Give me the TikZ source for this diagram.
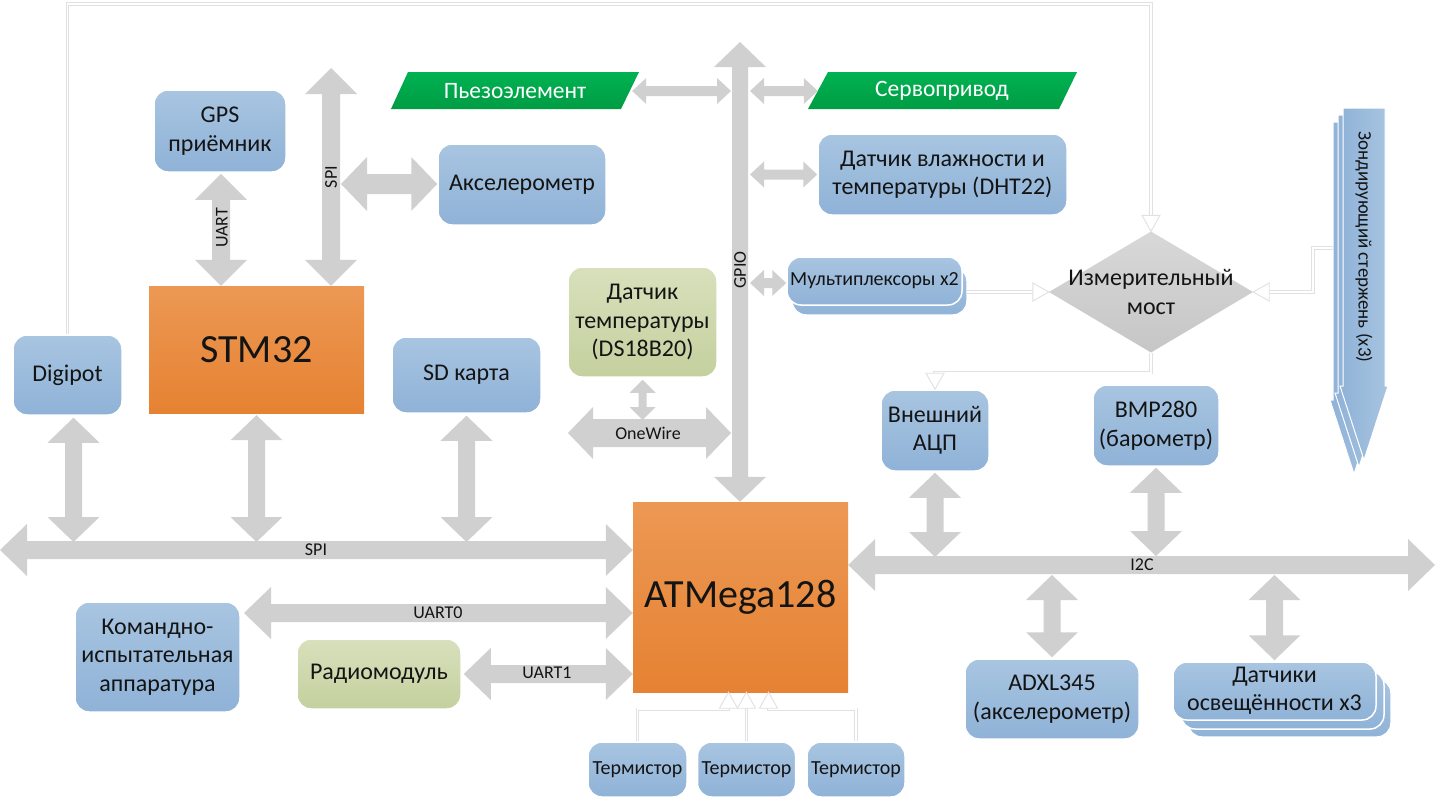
\documentclass[tikz,border=0pt]{standalone}
\usepackage{fontspec}
\setmainfont{Carlito}
\usetikzlibrary{calc}
\definecolor{bluetop}{RGB}{168,197,225}
\definecolor{bluebot}{RGB}{143,178,215}
\definecolor{greentop}{RGB}{216,224,188}
\definecolor{greenbot}{RGB}{196,208,158}
\definecolor{orangetop}{RGB}{236,152,84}
\definecolor{orangebot}{RGB}{230,130,50}
\definecolor{arrowgray}{RGB}{208,208,208}
\definecolor{pgreentop}{RGB}{0,178,82}
\definecolor{pgreenbot}{RGB}{0,156,68}
\definecolor{diatop}{RGB}{216,216,216}
\definecolor{diabot}{RGB}{198,198,198}
\definecolor{wiregray}{RGB}{225,225,225}
\definecolor{txt}{RGB}{20,20,20}

% horizontal block arrow: from (left) to (right), shaft half, head half, head length
\newcommand\harr[5]{\fill[arrowfill] let \p1=#1, \p2=#2 in
 (\x1,\y1) -- (\x1+#5pt,\y1+#4pt) -- (\x1+#5pt,\y1+#3pt) -- (\x2-#5pt,\y1+#3pt) -- (\x2-#5pt,\y1+#4pt) -- (\x2,\y1)
 -- (\x2-#5pt,\y1-#4pt) -- (\x2-#5pt,\y1-#3pt) -- (\x1+#5pt,\y1-#3pt) -- (\x1+#5pt,\y1-#4pt) -- cycle;}
% vertical block arrow: from (top) to (bottom)
\newcommand\varr[5]{\fill[arrowfill] let \p1=#1, \p2=#2 in
 (\x1,\y1) -- (\x1+#4pt,\y1-#5pt) -- (\x1+#3pt,\y1-#5pt) -- (\x1+#3pt,\y2+#5pt) -- (\x1+#4pt,\y2+#5pt) -- (\x1,\y2)
 -- (\x1-#4pt,\y2+#5pt) -- (\x1-#3pt,\y2+#5pt) -- (\x1-#3pt,\y1-#5pt) -- (\x1-#4pt,\y1-#5pt) -- cycle;}
% white wire with open tip
\newcommand\wtip[2]{\filldraw[wtipst, shift={#1}, rotate=#2] (0pt,0pt) -- (-16pt,9pt) -- (-16pt,-9pt) -- cycle;}
\newcommand\wire[3]{\draw[wout] #1; \draw[win] #1; \wtip{#2}{#3}}

\begin{document}
\begin{tikzpicture}[x=1pt,y=-1pt,
  box/.style={rounded corners=14pt, draw=white, line width=1.5pt, top color=bluetop, bottom color=bluebot,
     align=center, inner sep=0pt, text=txt, font=\fontsize{24}{28.5}\selectfont},
  gbox/.style={box, top color=greentop, bottom color=greenbot},
  obox/.style={draw=none, top color=orangetop, bottom color=orangebot, inner sep=0pt, text=txt,
     font=\fontsize{40}{44}\selectfont},
  sbox/.style={box, font=\fontsize{20}{24}\selectfont},
  lbl/.style={font=\fontsize{18}{21}\selectfont, inner sep=0pt, text=txt},
  arrowfill/.style={fill=arrowgray},
  wout/.style={draw=wiregray, line width=3.5pt, shorten >=15pt},
  win/.style={draw=white, line width=1.8pt, shorten >=15pt},
  wtipst/.style={draw=wiregray, fill=white, line width=0.9pt},
  para/.style={top color=pgreentop, bottom color=pgreenbot},
  ptxt/.style={text=white, inner sep=0pt, font=\fontsize{23.5}{27}\selectfont}
]
\useasboundingbox (0,0) rectangle (1436,798);
\fill[white] (0,0) rectangle (1436,798);

% ---------- coordinates ----------
\coordinate (topY) at (0,4);
\coordinate (spiTop) at (331,68);
\coordinate (spiAcc) at (341,184);
\coordinate (spiL) at (0,550);
\coordinate (u0) at (244,613);
\coordinate (gpioTop) at (740,42);
\coordinate (gpioL) at (731,0);
\coordinate (gpioR) at (750,0);
\coordinate (owL) at (568,433);
\coordinate (i2cR) at (1435,565);
\coordinate (muxOut) at (967,292);
\coordinate (probeL) at (1333,248);

% ---------- green parallelograms ----------
\shade[para] (391,109) -- (408,72) -- (639,72) -- (621,109) -- cycle;
\node[ptxt, minimum width=234pt, minimum height=37pt] (piezo) at (515,91) {Пьезоэлемент};
\shade[para] (808,109) -- (828,72) -- (1077,72) -- (1059,109) -- cycle;
\node[ptxt, minimum width=248pt, minimum height=37pt] (servo) at (942,91) {Сервопривод};

% ---------- diamond ----------
\shade[top color=diatop, bottom color=diabot] (1151,231.5) -- (1253,292) -- (1151,352.5) -- (1049,292) -- cycle;
\node[inner sep=0pt, minimum width=204pt, minimum height=121pt, align=center, text=txt,
      font=\fontsize{24}{28.5}\selectfont] (bridge) at (1151,292) {Измерительный\\мост};

% ---------- probe (x3) ----------
\foreach \dx/\dy in {-10/14,-5/7,0/0}{
  \shade[left color=bluebot, right color=bluetop, draw=white, line width=1pt, shift={(\dx,\dy)}]
    (1343,108) -- (1385,108) -- (1385,386) -- (1388,386) -- (1364,460) -- (1340,386) -- (1343,386) -- cycle;
}
\node[rotate=-90, inner sep=0pt, text=txt, font=\fontsize{19}{22}\selectfont] (probe) at (1364,247) {Зондирующий стержень (x3)};

% ---------- boxes ----------
\node[box, minimum width=132pt, minimum height=82pt] (gps) at (220,131) {GPS\\приёмник};
\node[box, minimum width=168pt, minimum height=81pt] (accel) at (522,184.5) {Акселерометр};
\node[obox, minimum width=215pt, minimum height=127pt] (stm) at (256.5,349.5) {STM32};
\node[box, minimum width=109pt, minimum height=80pt] (digipot) at (67.5,375) {Digipot};
\node[box, minimum width=149pt, minimum height=76pt] (sd) at (466.5,375) {SD карта};
\node[box, minimum width=249pt, minimum height=81pt] (dht) at (942.5,174.5) {Датчик влажности и\\температуры (DHT22)};
\node[sbox, minimum width=175pt, minimum height=48pt] (muxb) at (879.5,291) {};
\node[sbox, minimum width=175pt, minimum height=48pt] (mux) at (874.5,281) {Мультиплексоры x2};
\node[gbox, minimum width=149pt, minimum height=110pt] (ds) at (642.5,322) {Датчик\\температуры\\(DS18B20)};
\node[box, minimum width=108pt, minimum height=81pt] (adc) at (935,430.5) {Внешний\\АЦП};
\node[box, minimum width=126pt, minimum height=81pt] (bmp) at (1156,425.5) {BMP280\\(барометр)};
\node[obox, minimum width=215pt, minimum height=190pt] (atm) at (740.5,597) {ATMega128};
\node[box, minimum width=165pt, minimum height=110pt] (kia) at (157.5,657) {Командно-\\испытательная\\аппаратура};
\node[gbox, minimum width=164pt, minimum height=70pt] (radio) at (379,674) {Радиомодуль};
\node[box, minimum width=174pt, minimum height=80pt] (adxl) at (1052,699) {ADXL345\\(акселерометр)};
\node[box, minimum width=203pt, minimum height=58pt] (lightc) at (1289.5,708) {};
\node[box, minimum width=203pt, minimum height=58pt] (lightb) at (1282.5,700) {};
\node[box, minimum width=203pt, minimum height=58pt] (light) at (1274.5,691) {Датчики\\освещённости x3};
\node[sbox, minimum width=99pt, minimum height=55pt] (t1) at (637.5,769.5) {Термистор};
\node[sbox, minimum width=98pt, minimum height=55pt] (t2) at (746.5,769.5) {Термистор};
\node[sbox, minimum width=98pt, minimum height=55pt] (t3) at (856,769.5) {Термистор};

% ---------- block arrows ----------
\varr{($(gps.south)+(1,1)$)}{(gps.south |- stm.north)}{9}{26}{26}
\varr{(spiTop)}{(spiTop |- stm.north)}{9}{26}{26}
\harr{(spiAcc)}{(spiAcc -| accel.west)}{10}{27}{26}
\varr{($(digipot.south)+(6,2)$)}{($(digipot.south |- spiL)+(6,-8)$)}{8.5}{26}{25}
\varr{($(stm.south)+(0,2)$)}{($(stm.south |- spiL)+(0,-8)$)}{8.5}{26}{25}
\varr{($(sd.south)+(0,2)$)}{($(sd.south |- spiL)+(0,-8)$)}{8.5}{26}{25}
\harr{(spiL)}{(spiL -| atm.west)}{9}{26}{27}
\harr{(u0)}{(u0 -| atm.west)}{9}{26}{27}
\harr{($(radio.east)+(2,0)$)}{(radio.east -| atm.west)}{9}{26}{27}
\varr{(gpioTop)}{(gpioTop |- atm.north)}{8}{26}{25}
\harr{(piezo.east)}{(piezo.east -| gpioL)}{5}{13}{14}
\harr{(servo.west -| gpioR)}{(servo.west)}{5}{13}{14}
\harr{(dht.west -| gpioR)}{(dht.west)}{5}{13}{14}
\harr{($(mux.west -| gpioR)+(0,2)$)}{($(mux.west)+(0,2)$)}{5}{13}{14}
\varr{($(ds.south)+(0,2)$)}{($(ds.south |- owL)+(0,-13)$)}{4}{13}{13}
\harr{(owL)}{(owL -| gpioL)}{14}{26}{25}
\harr{(atm.east |- i2cR)}{(i2cR)}{9}{26}{27}
\varr{($(adc.south)+(0,1)$)}{($(adc.south |- i2cR)+(0,-8)$)}{8.5}{26}{25}
\varr{($(bmp.south)+(0,1)$)}{($(bmp.south |- i2cR)+(0,-9)$)}{8.5}{26}{25}
\varr{($(adxl.north |- i2cR)+(0,10)$)}{($(adxl.north)+(0,-1)$)}{8.5}{26}{25}
\varr{($(light.north |- i2cR)+(0,10)$)}{($(light.north)+(0,-1)$)}{8.5}{26}{25}

% ---------- arrow labels ----------
\node[lbl, rotate=90] (lUART) at (222,228) {UART};
\node[lbl, rotate=90] (lSPIv) at (331,177) {SPI};
\node[lbl, rotate=90] (lGPIO) at (740,270) {GPIO};
\node[lbl] (lSPI) at (316,550) {SPI};
\node[lbl] (lU0) at (438,613) {UART0};
\node[lbl] (lU1) at (547,673) {UART1};
\node[lbl] (lOW) at (648,433) {OneWire};
\node[lbl] (lI2C) at (1142,565) {I2C};

% ---------- white wires ----------
\wire{(digipot.north) -- (digipot.north |- topY) -- (bridge.north |- topY) -- (bridge.north)}{(bridge.north)}{-90}
\wire{(muxOut) -- (bridge.west)}{(bridge.west)}{0}
\wire{(probeL) -- ++(-20,0) |- (bridge.east)}{(bridge.east)}{180}
\wire{(bridge.south) -- ++(0,20) -| (adc.north)}{(adc.north)}{-90}
\coordinate (a1) at ($(atm.south)+(-12,0)$);
\coordinate (a3) at ($(atm.south)+(28,0)$);
\wire{(t1.north) -- ++(0,-32) -| (a1)}{(a1)}{90}
\wire{(t2.north) -- (t2.north |- atm.south)}{(t2.north |- atm.south)}{90}
\wire{(t3.north) -- ++(0,-32) -| (a3)}{(a3)}{90}
\end{tikzpicture}
\end{document}
